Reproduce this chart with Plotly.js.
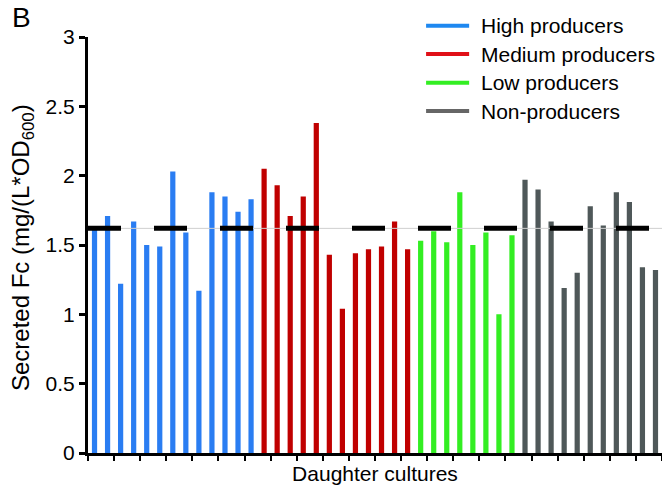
<!DOCTYPE html>
<html>
<head>
<meta charset="utf-8">
<script src="https://cdn.plot.ly/plotly-3.0.1.min.js"></script>
<style>html,body{margin:0;padding:0;background:#fff}#chart{width:662px;height:498px}</style>
</head>
<body>
<div id="chart"></div>
<script>
// ---- data ----
const groupNames = ["High producers", "Medium producers", "Low producers", "Non-producers"];
const highValues = [1.61, 1.71, 1.22, 1.67, 1.50, 1.49, 2.03, 1.59, 1.17, 1.88, 1.85, 1.74, 1.83];
const mediumValues = [2.05, 1.93, 1.71, 1.85, 2.38, 1.43, 1.04, 1.44, 1.47, 1.49, 1.67, 1.47];
const lowValues = [1.53, 1.60, 1.52, 1.88, 1.50, 1.59, 1.00, 1.57];
const nonValues = [1.97, 1.90, 1.67, 1.19, 1.30, 1.78, 1.64, 1.88, 1.81, 1.34, 1.32];
const threshold = 1.62;
const yTickVals = [0, 0.5, 1, 1.5, 2, 2.5, 3];
const yTickText = ["0", "0.5", "1", "1.5", "2", "2.5", "3"];

const barColors = ["#2A7DF2", "#C00000", "#33EE22", "#4F5859"];
const legendColors = ["#1E88F0", "#E01018", "#33EE22", "#666666"];
const prefixes = ["H", "M", "L", "N"];
const series = [highValues, mediumValues, lowValues, nonValues];

const traces = [];
series.forEach((vals, g) => {
  traces.push({
    type: "bar",
    name: groupNames[g],
    x: vals.map((_, i) => prefixes[g] + (i + 1)),
    y: vals,
    marker: {color: barColors[g], line: {width: 0}},
    showlegend: false,
    hoverinfo: "y"
  });
});

// hand-built legend (line swatch + label), placed in paper coordinates
const legendRowsY = [1.027, 0.959, 0.890, 0.822];
const legendShapes = groupNames.map((_, g) => ({
  type: "line", xref: "paper", yref: "paper",
  x0: 0.589, x1: 0.664, y0: legendRowsY[g], y1: legendRowsY[g],
  line: {color: legendColors[g], width: 4}
}));
const legendLabels = groupNames.map((name, g) => ({
  text: name, xref: "paper", yref: "paper", x: 0.681, y: legendRowsY[g],
  xanchor: "left", yanchor: "middle", showarrow: false, font: {size: 21}
}));

const layout = {
  width: 662, height: 498,
  margin: {l: 88, r: 0, t: 37, b: 45},
  paper_bgcolor: "#fff", plot_bgcolor: "#fff",
  font: {family: "Liberation Sans, Arial, sans-serif", color: "#000", size: 21},
  barmode: "overlay",
  bargap: 0.6,
  showlegend: false,
  xaxis: {
    type: "category",
    showline: true, linecolor: "#000", linewidth: 3,
    ticks: "outside", tickson: "boundaries", ticklen: 5, tickwidth: 2, tickcolor: "#000",
    showticklabels: false, showgrid: false, zeroline: false,
    title: {text: "Daughter cultures", font: {size: 21}, standoff: 12}
  },
  yaxis: {
    range: [0, 3],
    tickvals: yTickVals, ticktext: yTickText,
    showline: true, linecolor: "#000", linewidth: 3,
    ticks: "outside", ticklen: 6, tickwidth: 3, tickcolor: "#000",
    showgrid: false, zeroline: false,
    tickfont: {size: 21}
  },
  shapes: [
    {type: "line", xref: "paper", yref: "y", x0: 0, x1: 1, y0: threshold, y1: threshold,
     line: {color: "#cfcfcf", width: 1}},
    {type: "line", xref: "paper", yref: "y", x0: 0, x1: 1, y0: threshold, y1: threshold,
     line: {color: "#000", width: 5, dash: "33px,33px"}}
  ].concat(legendShapes),
  annotations: [
    {text: "B", xref: "paper", yref: "paper", x: -0.136, y: 1.048, xanchor: "left", yanchor: "middle",
     showarrow: false, font: {size: 28}},
    {text: "Secreted Fc (mg/(L*OD<sub>600</sub>)", xref: "paper", yref: "paper",
     x: -0.115, y: 0.495, xanchor: "center", yanchor: "middle", textangle: -90,
     showarrow: false, font: {size: 24}}
  ].concat(legendLabels)
};

Plotly.newPlot("chart", traces, layout, {displayModeBar: false, staticPlot: true});
</script>
</body>
</html>
